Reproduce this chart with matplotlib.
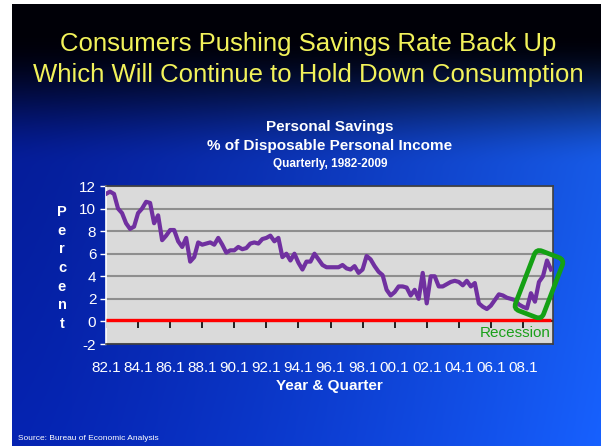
import numpy as np
import matplotlib
matplotlib.use("Agg")
import matplotlib.pyplot as plt
import matplotlib.transforms as mtransforms
from matplotlib.patches import FancyBboxPatch

plt.rcParams['font.family'] = ['Liberation Sans', 'DejaVu Sans']
plt.rcParams['axes.unicode_minus'] = False

# personal savings rate, quarterly 1982Q1 .. 2009Q4
savings = [11.3, 11.5, 11.3, 10.0, 9.6, 8.7, 8.2, 8.4, 9.6, 10.0, 10.6, 10.5,
           8.7, 9.4, 7.2, 7.6, 8.1, 8.1, 7.1, 6.6, 7.4, 5.3, 5.7, 7.0,
           6.8, 6.9, 7.0, 6.8, 7.4, 6.8, 6.1, 6.3, 6.3, 6.6, 6.4, 6.5,
           6.9, 7.0, 6.9, 7.3, 7.4, 7.6, 7.1, 7.4, 5.7, 6.0, 5.4, 6.0,
           5.2, 4.6, 5.3, 5.3, 6.0, 5.5, 5.0, 4.8, 4.8, 4.8, 4.8, 5.0,
           4.7, 4.6, 4.9, 4.3, 4.6, 5.8, 5.5, 4.9, 4.4, 4.1, 2.8, 2.3,
           2.6, 3.1, 3.1, 3.0, 2.3, 2.8, 2.0, 4.3, 1.6, 4.0, 4.0, 3.1,
           3.1, 3.3, 3.5, 3.6, 3.5, 3.2, 3.6, 3.1, 3.4, 1.6, 1.3, 1.1,
           1.4, 1.9, 2.4, 2.3, 2.1, 2.0, 1.9, 1.5, 1.3, 1.15, 2.5, 1.75,
           3.5, 4.0, 5.4, 4.6]
tick_labels = ["82.1", "84.1", "86.1", "88.1", "90.1", "92.1", "94.1",
               "96.1", "98.1", "00.1", "02.1", "04.1", "06.1", "08.1"]
y_ticks = [-2, 0, 2, 4, 6, 8, 10, 12]

W, H = 604, 447
fig = plt.figure(figsize=(W / 100, H / 100), dpi=100)
fig.patch.set_facecolor('white')

# slide background (dark gradient)
bg = fig.add_axes([12 / W, 1 / H, 589 / W, 442 / H])
yy, xx = np.mgrid[0:1:300j, 0:1:400j]
t = np.clip((yy - 0.07) / 0.3, 0, 1)
t = t * t * (3 - 2 * t)
xf = xx ** 1.3
r = 0.02 + 0.07 * xf
g = 0.10 + 0.24 * xf + 0.04 * yy
b = 0.52 + 0.30 * xf + 0.15 * yy
img = np.dstack([r * t, g * t, np.clip(b * t + 0.03, 0, 1)])
bg.imshow(img, aspect='auto', extent=[0, 1, 1, 0], interpolation='bilinear')
bg.set_axis_off()

fig.text(0.51, 1 - 44 / H, "Consumers Pushing Savings Rate Back Up",
         ha='center', va='center', color='#f2f25a', fontsize=18.5)
fig.text(0.51, 1 - 75 / H, "Which Will Continue to Hold Down Consumption",
         ha='center', va='center', color='#f2f25a', fontsize=18.5)

fig.text(330 / W, 1 - 127 / H, "Personal Savings", ha='center', va='center',
         color='white', fontsize=11, fontweight='bold')
fig.text(330 / W, 1 - 146 / H, "% of Disposable Personal Income", ha='center',
         va='center', color='white', fontsize=11, fontweight='bold')
fig.text(330 / W, 1 - 164 / H, "Quarterly, 1982-2009", ha='center',
         va='center', color='white', fontsize=8.5, fontweight='bold')

ax = fig.add_axes([106 / W, 103 / H, 447 / W, 158 / H])
ax.set_facecolor('#dadada')
x = np.arange(len(savings))
ax.set_xlim(0, 111.5)
ax.set_ylim(-2, 12)
ax.set_yticks(y_ticks)
ax.yaxis.grid(True, color='#8e8e8e', lw=1.5)
ax.set_axisbelow(True)
ax.tick_params(axis='y', colors='white', labelsize=11, length=4, width=1,
               direction='out', pad=3)
ax.set_xticks(range(0, len(savings), 8))
ax.set_xticklabels(tick_labels)
ax.tick_params(axis='x', colors='white', labelsize=11, length=0, pad=12)
for s in ['top', 'right', 'bottom']:
    ax.spines[s].set_color('#404040')
    ax.spines[s].set_linewidth(1.2)
ax.spines['left'].set_color('white')
ax.spines['left'].set_linewidth(1.2)

# zero line with tick marks, red series just above
ax.axhline(0, color='black', lw=1.2, zorder=2)
ax.plot(range(0, len(savings), 8), [0] * len(tick_labels), ls='none',
        marker=3, ms=5, mew=1.2, color='black', zorder=2)
up = ax.transData + mtransforms.ScaledTranslation(0, 0.015, fig.dpi_scale_trans)
ax.plot(x, np.zeros(len(savings)), color='#ff0000', lw=2.4, zorder=3,
        transform=up, solid_capstyle='butt')
ax.plot(x, savings, color='#7030a0', lw=3.0, zorder=4, solid_joinstyle='round')

ax.text(102, -1.0, "Recession", ha='center', va='center', color='#1aa01a',
        fontsize=11)

ax.set_xlabel("Year & Quarter", color='white', fontsize=11,
              fontweight='bold', labelpad=3)

fig.text(62 / W, 1 - 268 / H, "P\ne\nr\nc\ne\nn\nt", ha='center',
         va='center', color='white', fontsize=10.5, fontweight='bold',
         linespacing=1.42)

fig.text(18 / W, 1 - 438 / H, "Source: Bureau of Economic Analysis",
         ha='left', va='center', color='white', fontsize=6)

# rotated rounded box around the recession rebound
cx, cy = ax.transData.transform((108, 3.3))
box = FancyBboxPatch((-15, -32), 30, 64,
                     boxstyle="round,pad=0,rounding_size=6", fill=False,
                     ec='#14a014', lw=3.4,
                     transform=mtransforms.Affine2D().rotate_deg(-21).translate(cx, cy))
fig.add_artist(box)

fig.savefig("out.png", dpi=100)
